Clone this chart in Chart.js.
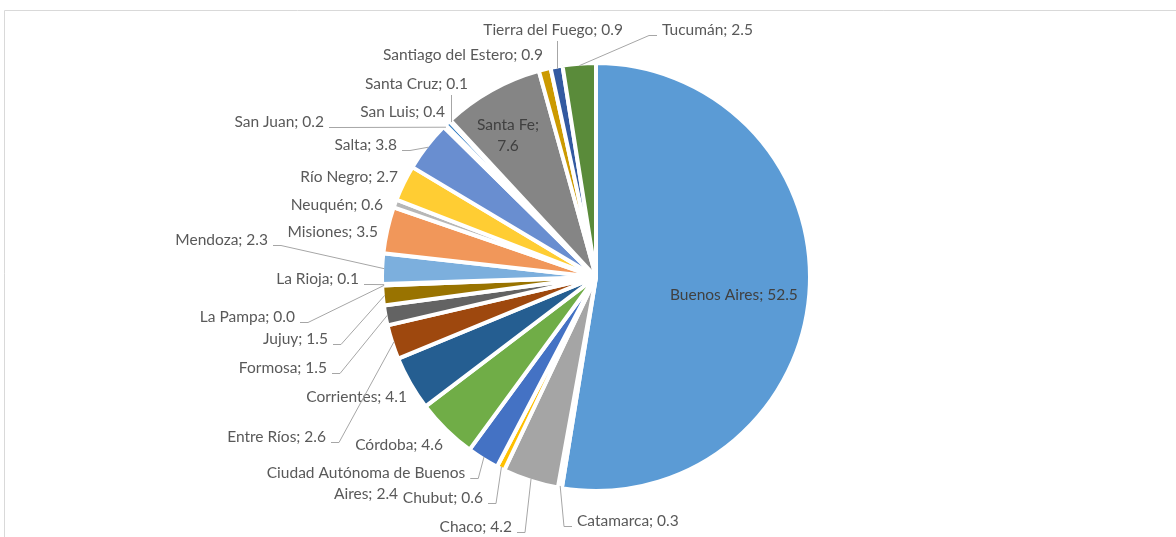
<!DOCTYPE html>
<html lang="es">
<head>
    <meta charset="UTF-8">
    <title>Participación por provincia</title>
    <script src="https://cdn.jsdelivr.net/npm/chart.js"></script>
    <style>
        body { margin: 0; background: #fff; }
        canvas { display: block; }
    </style>
</head>
<body>
    <canvas id="provChart" width="1176" height="537"></canvas>
    <script>
        // data (order = clockwise from 12 o'clock)
        const provinces = [
            "Buenos Aires", "Catamarca", "Chaco", "Chubut", "Ciudad Autónoma de Buenos Aires",
            "Córdoba", "Corrientes", "Entre Ríos", "Formosa", "Jujuy", "La Pampa", "La Rioja",
            "Mendoza", "Misiones", "Neuquén", "Río Negro", "Salta", "San Juan", "San Luis",
            "Santa Cruz", "Santa Fe", "Santiago del Estero", "Tierra del Fuego", "Tucumán"
        ];
        const shares = [
            52.5, 0.3, 4.2, 0.6, 2.4, 4.6, 4.1, 2.6, 1.5, 1.5, 0.0, 0.1,
            2.3, 3.5, 0.6, 2.7, 3.8, 0.2, 0.4, 0.1, 7.6, 0.9, 0.9, 2.5
        ];
        const sliceColors = [
            "#5B9BD5", "#ED7D31", "#A5A5A5", "#FFC000", "#4472C4", "#70AD47",
            "#255E91", "#9E480E", "#636363", "#997300", "#264478", "#43682B",
            "#7CAFDD", "#F1975A", "#B7B7B7", "#FFCD33", "#698ED0", "#8CC168",
            "#327DC2", "#D26012", "#858585", "#CC9A00", "#335AA1", "#5A8B3A"
        ];

        // where each data label sits (Excel had them dragged around by hand)
        // align: which edge x refers to; leader: side the leader line leaves from
        const labelLayout = [
            { x: 670, y: 295, align: "left", inside: true },
            { x: 577, y: 521, align: "left", leader: "left" },
            { x: 512, y: 527, align: "right", leader: "right" },
            { x: 483, y: 498, align: "right", leader: "right" },
            { x: 366, y: 473, align: "center", wrap: 215, leader: "right" },
            { x: 443, y: 445, align: "right" },
            { x: 407, y: 397, align: "right" },
            { x: 326, y: 437, align: "right", leader: "right" },
            { x: 327, y: 368, align: "right", leader: "right" },
            { x: 328, y: 339, align: "right", leader: "right" },
            { x: 295, y: 317, align: "right", leader: "right" },
            { x: 359, y: 279, align: "right", leader: "right" },
            { x: 268, y: 240, align: "right", leader: "right" },
            { x: 378, y: 232, align: "right" },
            { x: 383, y: 205, align: "right" },
            { x: 398, y: 177, align: "right" },
            { x: 397, y: 145, align: "right", leader: "right" },
            { x: 324, y: 122, align: "right", leader: "right" },
            { x: 445, y: 112, align: "right" },
            { x: 468, y: 84, align: "right", leader: "up" },
            { x: 508, y: 125, align: "center", wrap: 75, inside: true },
            { x: 543, y: 55, align: "right" },
            { x: 623, y: 30, align: "right", leader: "up" },
            { x: 662, y: 30, align: "left", leader: "left" }
        ];

        const LABEL_FONT = "15.5px Lato";
        const LINE_H = 21;
        const BORDER_W = 4;

        function wrapText(ctx, text, maxW) {
            if (!maxW) return [text];
            const words = text.split(" ");
            const lines = [];
            let cur = "";
            words.forEach(w => {
                const test = cur ? cur + " " + w : w;
                if (cur && ctx.measureText(test).width > maxW) {
                    lines.push(cur);
                    cur = w;
                } else {
                    cur = test;
                }
            });
            lines.push(cur);
            return lines;
        }

        // light grey frame of the chart object (only top and left edges are in the crop)
        const framePlugin = {
            id: "frame",
            beforeDraw(chart) {
                const ctx = chart.ctx;
                ctx.save();
                ctx.strokeStyle = "#D9D9D9";
                ctx.lineWidth = 1;
                ctx.beginPath();
                ctx.moveTo(4.5, chart.height);
                ctx.lineTo(4.5, 10.5);
                ctx.lineTo(chart.width, 10.5);
                ctx.stroke();
                ctx.restore();
            }
        };

        const labelPlugin = {
            id: "sliceLabels",
            afterDatasetsDraw(chart) {
                const ctx = chart.ctx;
                const arcs = chart.getDatasetMeta(0).data;
                ctx.save();
                ctx.font = LABEL_FONT;
                ctx.textBaseline = "middle";
                arcs.forEach((arc, i) => {
                    const lay = labelLayout[i];
                    const text = provinces[i] + "; " + shares[i].toFixed(1);
                    const lines = wrapText(ctx, text, lay.wrap);
                    const widths = lines.map(l => ctx.measureText(l).width);
                    const w0 = widths[0];
                    let left = lay.x;
                    if (lay.align === "right") left = lay.x - w0;
                    if (lay.align === "center") left = lay.x - w0 / 2;
                    const right = left + w0;

                    // anchor on the outer edge of the slice, at its middle angle
                    const mid = (arc.startAngle + arc.endAngle) / 2;
                    const r = arc.outerRadius - BORDER_W / 2;
                    const ax = arc.x + Math.cos(mid) * r;
                    const ay = arc.y + Math.sin(mid) * r;

                    if (lay.leader) {
                        ctx.strokeStyle = "#A6A6A6";
                        ctx.lineWidth = 1;
                        ctx.beginPath();
                        if (lay.leader === "up") {
                            const lx = Math.round(ax) + 0.5;
                            ctx.moveTo(lx, ay);
                            ctx.lineTo(lx, lay.y + 11);
                        } else {
                            const ly = Math.round(lay.y + 5) + 0.5;
                            const sx = lay.leader === "right" ? right + 5 : left - 5;
                            const ex = lay.leader === "right" ? sx + 8 : sx - 8;
                            ctx.moveTo(sx, ly);
                            ctx.lineTo(ex, ly);
                            ctx.lineTo(ax, ay);
                        }
                        ctx.stroke();
                    }

                    ctx.fillStyle = lay.inside ? "#404040" : "#595959";
                    lines.forEach((line, k) => {
                        let lx = lay.x;
                        ctx.textAlign = lay.align;
                        ctx.fillText(line, lx, lay.y + k * LINE_H);
                    });
                });
                ctx.restore();
            }
        };

        const ctx = document.getElementById("provChart").getContext("2d");
        new Chart(ctx, {
            type: "pie",
            data: {
                labels: provinces,
                datasets: [{
                    data: shares,
                    backgroundColor: sliceColors,
                    borderColor: "#FFFFFF",
                    borderWidth: BORDER_W,
                    borderJoinStyle: "bevel",
                    radius: 214
                }]
            },
            options: {
                responsive: false,
                animation: false,
                layout: {
                    padding: { left: 100, right: 84, top: 20, bottom: 3 }
                },
                plugins: {
                    legend: { display: false },
                    tooltip: { enabled: false }
                }
            },
            plugins: [framePlugin, labelPlugin]
        });
    </script>
</body>
</html>
